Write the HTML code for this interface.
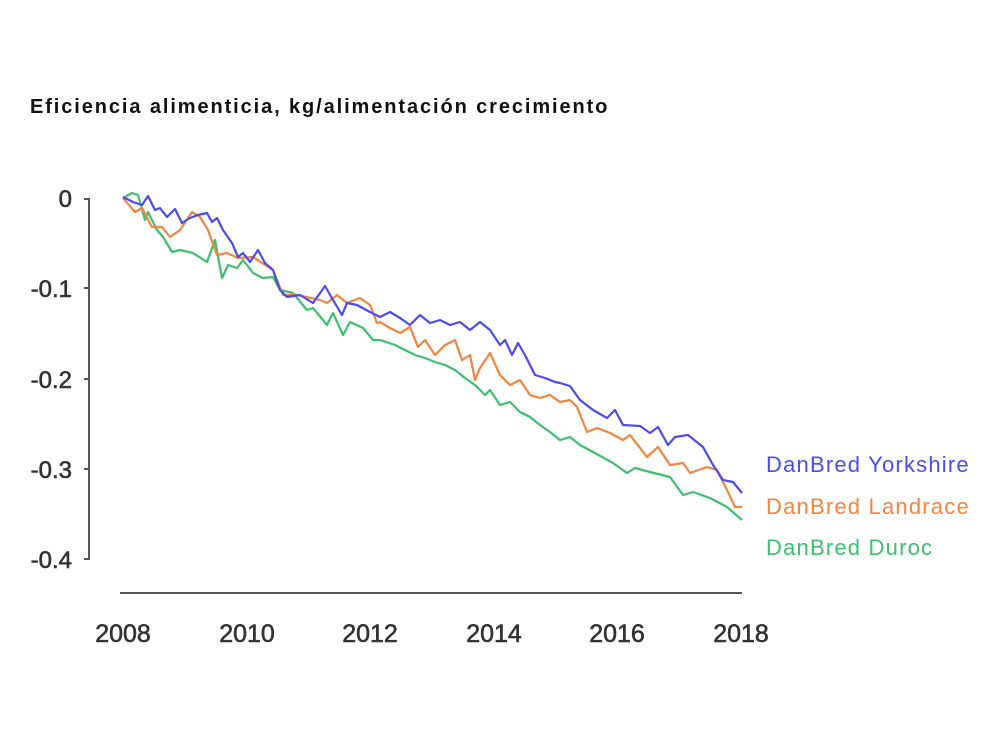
<!DOCTYPE html>
<html><head><meta charset="utf-8"><style>
html,body{margin:0;padding:0;background:#fff;}
svg{display:block;}
</style></head><body>
<svg width="1000" height="741" viewBox="0 0 1000 741" xmlns="http://www.w3.org/2000/svg" font-family="Liberation Sans, Arial, sans-serif">
<rect width="1000" height="741" fill="#fff"/>
<text x="30" y="113" font-size="20" font-weight="bold" fill="#111" letter-spacing="1.9">Eficiencia alimenticia, kg/alimentación crecimiento</text>
<g stroke="#555" stroke-width="2" fill="none">
<path d="M84 199 H89 V559 H84 M84 288 H89 M84 379 H89 M84 469 H89"/>
<path d="M120 593 H742"/>
</g>
<g font-size="24" fill="#333" stroke="#333" stroke-width="0.6" text-anchor="end">
<text x="72" y="207">0</text>
<text x="72" y="297">-0.1</text>
<text x="72" y="388">-0.2</text>
<text x="72" y="478">-0.3</text>
<text x="72" y="568">-0.4</text>
</g>
<g font-size="25" fill="#333" stroke="#333" stroke-width="0.6" text-anchor="middle">
<text x="123" y="642">2008</text>
<text x="247" y="642">2010</text>
<text x="370" y="642">2012</text>
<text x="494" y="642">2014</text>
<text x="617" y="642">2016</text>
<text x="741" y="642">2018</text>
</g>
<g fill="none" stroke-width="2.2" stroke-linejoin="round">
<polyline stroke="#3cc070" points="125,197 132,193 138,195 145,220 148,212 157,230 163,237 172,252 180,250 193,253 207,262 215,240 222,278 228,265 237,268 243,260 253,273 263,278 273,277 280,290 293,293 307,310 313,308 327,325 333,313 343,335 350,322 363,328 373,340 380,340 395,345 405,350 415,355 425,358 435,362 445,365 455,370 465,378 475,385 485,395 490,390 500,405 510,402 520,412 530,417 540,425 550,432 560,440 570,437 580,445 593,452 613,463 627,473 635,468 650,472 670,477 683,495 693,492 710,498 727,507 742,520"/>
<polyline stroke="#f5843c" points="123,198 135,212 142,208 152,227 162,227 170,237 180,230 192,212 200,217 208,230 217,255 227,253 238,258 253,257 273,270 283,295 297,295 320,300 327,303 337,295 347,303 360,298 370,305 377,323 380,322 390,328 400,333 410,327 418,347 425,340 435,355 445,345 455,340 462,360 470,355 475,380 480,368 490,353 500,375 510,385 520,380 530,395 540,398 550,395 560,402 570,400 577,407 587,432 597,428 610,433 623,440 630,435 647,457 658,447 670,465 683,463 690,473 707,467 717,470 727,490 735,507 742,507"/>
<polyline stroke="#4a4cf2" points="123,197 133,202 142,205 148,196 155,210 160,208 167,217 175,209 182,223 190,218 198,215 207,213 212,222 217,218 223,230 232,243 238,257 243,253 250,262 258,250 265,263 273,270 280,290 287,297 300,295 313,303 325,286 333,300 342,315 347,303 357,305 370,312 380,317 390,312 400,318 410,325 420,315 430,323 440,320 450,325 460,322 470,330 480,322 490,330 500,345 505,340 512,355 518,343 525,355 535,375 545,378 555,382 560,383 570,386 580,400 593,410 607,418 615,410 623,425 640,426 650,433 658,427 668,445 675,437 688,435 703,447 713,465 723,480 733,482 742,493"/>
</g>
<g font-size="22" letter-spacing="1.2">
<text x="766" y="472" fill="#4a4cf2">DanBred Yorkshire</text>
<text x="766" y="514" fill="#f5843c">DanBred Landrace</text>
<text x="766" y="555" fill="#3cc070">DanBred Duroc</text>
</g>
</svg>
</body></html>
